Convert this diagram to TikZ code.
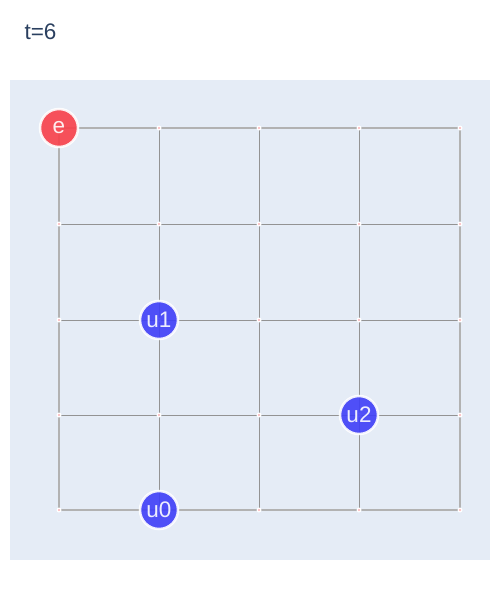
\documentclass[tikz,border=0pt]{standalone}
\usepackage{fontspec}
\setmainfont{Liberation Sans}
\usepackage{xcolor}
\definecolor{plotbg}{HTML}{E5ECF6}
\definecolor{titlecol}{HTML}{2A3F5F}
\definecolor{evader}{HTML}{F8404A}
\definecolor{pursuer}{HTML}{3F3FF8}
\tikzset{
    edgein/.style={draw=gray!85, line width=0.9pt},
    edgeout/.style={draw=gray!60, line width=1.6pt},
    gridpt/.style={circle, fill=white, inner sep=0pt, minimum size=5pt},
    agent/.style={circle, draw=white, line width=2.5pt, opacity=0.9, minimum size=38pt,
        inner sep=0pt, text=white, font=\fontsize{22.5}{26}\selectfont}
}
\begin{document}
\begin{tikzpicture}[x=1pt, y=-1pt]
    \useasboundingbox (0,0) rectangle (500,600);
    \fill[plotbg] (10,80) rectangle (490,560);
    \node[text=titlecol, font=\fontsize{22.5}{26}\selectfont, anchor=west] (title) at (21,32) {t=6};
    % grid vertices
    \foreach \i/\x in {0/59,1/159,2/259,3/359,4/460}
        \foreach \j/\y in {0/128,1/224,2/320,3/415,4/510}
            \coordinate (v\i\j) at (\x,\y);
    % interior edges
    \foreach \i in {1,2,3}
        \draw[edgein] (v\i0) -- (v\i4) (v0\i) -- (v4\i);
    % outer edges
    \draw[edgeout] (v00) -- (v40) -- (v44) -- (v04) -- cycle;
    % vertex markers
    \foreach \i in {0,...,4}
        \foreach \j in {0,...,4} {
            \node[gridpt] (p\i\j) at (v\i\j) {};
            \fill[evader!60] (v\i\j) circle (0.9pt);
        }
    % agents
    \node[agent, fill=evader] (e) at (v00) {e};
    \node[agent, fill=pursuer] (u1) at (v12) {u1};
    \node[agent, fill=pursuer] (u2) at (v33) {u2};
    \node[agent, fill=pursuer] (u0) at (v14) {u0};
\end{tikzpicture}
\end{document}
